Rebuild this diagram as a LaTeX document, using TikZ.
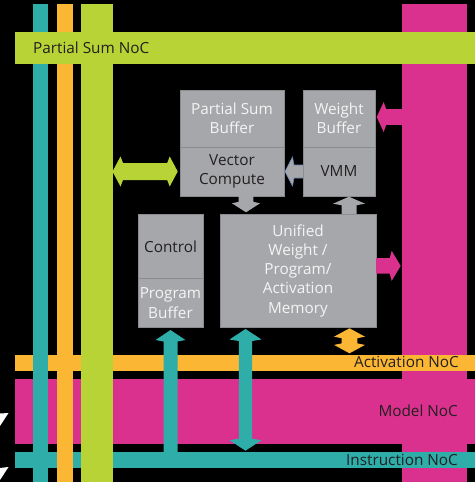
\documentclass[tikz,border=0pt]{standalone}
\usepackage{fontspec}
\setmainfont{Open Sans}
\usetikzlibrary{calc}
\definecolor{cTeal}{HTML}{2EADA9}
\definecolor{cOrange}{HTML}{FBB734}
\definecolor{cGreen}{HTML}{B7D335}
\definecolor{cMag}{HTML}{DA318F}
\definecolor{cGray}{HTML}{A6A7AA}
\definecolor{cGrayD}{HTML}{8A8B8E}
\definecolor{cDark}{HTML}{231F20}
\definecolor{cWhite}{HTML}{F4F4F4}
\definecolor{cBlue}{HTML}{6A86B5}
\tikzset{
  pics/sarr/.style n args={5}{code={
    \fill (0,-#2) -- ({#1-#4-#5},-#2) -- ({#1-#4},-#3) -- (#1,0) -- ({#1-#4},#3)
      -- ({#1-#4-#5},#2) -- (0,#2) -- cycle;
  }},
  pics/darr/.style n args={5}{code={
    \fill (0,0) -- (#4,-#3) -- ({#4+#5},-#2) -- ({#1-#4-#5},-#2) -- ({#1-#4},-#3) -- (#1,0)
      -- ({#1-#4},#3) -- ({#1-#4-#5},#2) -- ({#4+#5},#2) -- (#4,#3) -- cycle;
  }}
}
\begin{document}
\begin{tikzpicture}[x=1pt,y=-1pt,
  bar/.style={draw=none,inner sep=0pt,outer sep=0pt,anchor=north west},
  box/.style={fill=cGray,draw=cGrayD,line width=0.6pt,inner sep=0pt,outer sep=0pt,
    anchor=north west,align=center,font=\fontsize{15.3}{19.3}\selectfont},
  lbl/.style={inner sep=0pt,text=cDark,font=\fontsize{15.3}{19.3}\selectfont}
]
\fill[black] (0,0) rectangle (475,482);
\useasboundingbox (0,0) rectangle (475,482);
% bars
\node[bar,fill=cMag,minimum width=65pt,minimum height=478pt] (magV) at (402,4) {};
\node[bar,fill=cOrange,minimum width=460pt,minimum height=16pt] (actNoC) at (15,355) {};
\node[bar,fill=cMag,minimum width=460pt,minimum height=65.3pt] (modelNoC) at (15,379) {};
\node[bar,fill=cTeal,minimum width=460pt,minimum height=15.7pt] (instrNoC) at (15,452.3) {};
\node[bar,fill=cTeal,minimum width=15pt,minimum height=478pt] (tealV) at (33,4) {};
\node[bar,fill=cOrange,minimum width=15.6pt,minimum height=478pt] (orangeV) at (57,4) {};
\node[bar,fill=cGreen,minimum width=32pt,minimum height=478pt] (greenV) at (81,4) {};
\node[bar,fill=cGreen,minimum width=460pt,minimum height=32pt] (psNoC) at (15,32) {};
% labels on bars
\node[lbl,anchor=base west] (psl) at (33,53.5) {Partial Sum NoC};
\node[lbl,anchor=base east] (actl) at (459,367.7) {Activation NoC};
\node[lbl,anchor=base east] (modl) at (458,416) {Model NoC};
\node[lbl,anchor=base east] (insl) at (458,465) {Instruction NoC};
% boxes
\node[box,text=cWhite,minimum width=104pt,minimum height=57pt] (psb) at (180,90) {Partial Sum\\Buffer};
\node[box,text=cDark,minimum width=104pt,minimum height=49pt] (vc) at (180,147) {Vector\\Compute};
\node[box,text=cWhite,minimum width=72pt,minimum height=57pt] (wb) at (303,90) {Weight\\Buffer};
\node[box,text=cDark,minimum width=72pt,minimum height=49pt] (vmm) at (303,147) {VMM};
\node[box,text=cDark,minimum width=65pt,minimum height=64.7pt] (ctl) at (138,214) {Control};
\node[box,text=cWhite,minimum width=65pt,minimum height=48.6pt] (pb) at (138,278.7) {Program\\Buffer};
\node[box,text=cWhite,minimum width=156pt,minimum height=113.3pt] (um) at (220,214) {Unified\\Weight /\\Program/\\Activation\\Memory};
% arrows
\pic[cGreen] at ($(greenV.east |- vc.west)+(-0.5,0)$) {darr={65.2}{8.5}{15}{8}{2.5}};
\pic[cMag,rotate=180] at (magV.west |- 0,117) {sarr={25.3}{7.8}{15}{7}{2.5}};
\draw[fill=cGray,draw=cBlue,line width=0.6pt]
  (vmm.west) ++(0,-6.5) -- ++(-9,0) -- ++(-1.5,-8) -- ++(-7.5,14.5) -- ++(7.5,14.5) -- ++(1.5,-8) -- ++(9,0);
\pic[cGray,rotate=-90] at ($(vc.south)+(14,0)$) {sarr={16.3}{7.3}{14}{9}{1.5}};
\pic[cGray,rotate=90] at ($(um.north)+(51,0)$) {sarr={17.3}{7.5}{16}{7}{1.5}};
\pic[cMag] at ($(um.east)+(0,-4.8)$) {sarr={24.7}{7.8}{15}{9}{2}};
\pic[cOrange,rotate=-90] at ($(um.south)+(51.5,1)$) {darr={25}{7.8}{15.5}{8.4}{1.5}};
\pic[cTeal,rotate=90] at (pb.south |- instrNoC.north) {sarr={122.3}{7}{15}{10}{1.5}};
\pic[cTeal,rotate=-90] at ($(um.south)+(-52.5,1.7)$) {darr={121.7}{6.7}{16}{10.5}{1.5}};
% white triangles at left edge
\fill[white] (0,413.5) -- (8.5,413) -- (0,426) -- cycle;
\fill[white] (0,468) -- (8.5,467) -- (0,480) -- cycle;
\end{tikzpicture}
\end{document}
